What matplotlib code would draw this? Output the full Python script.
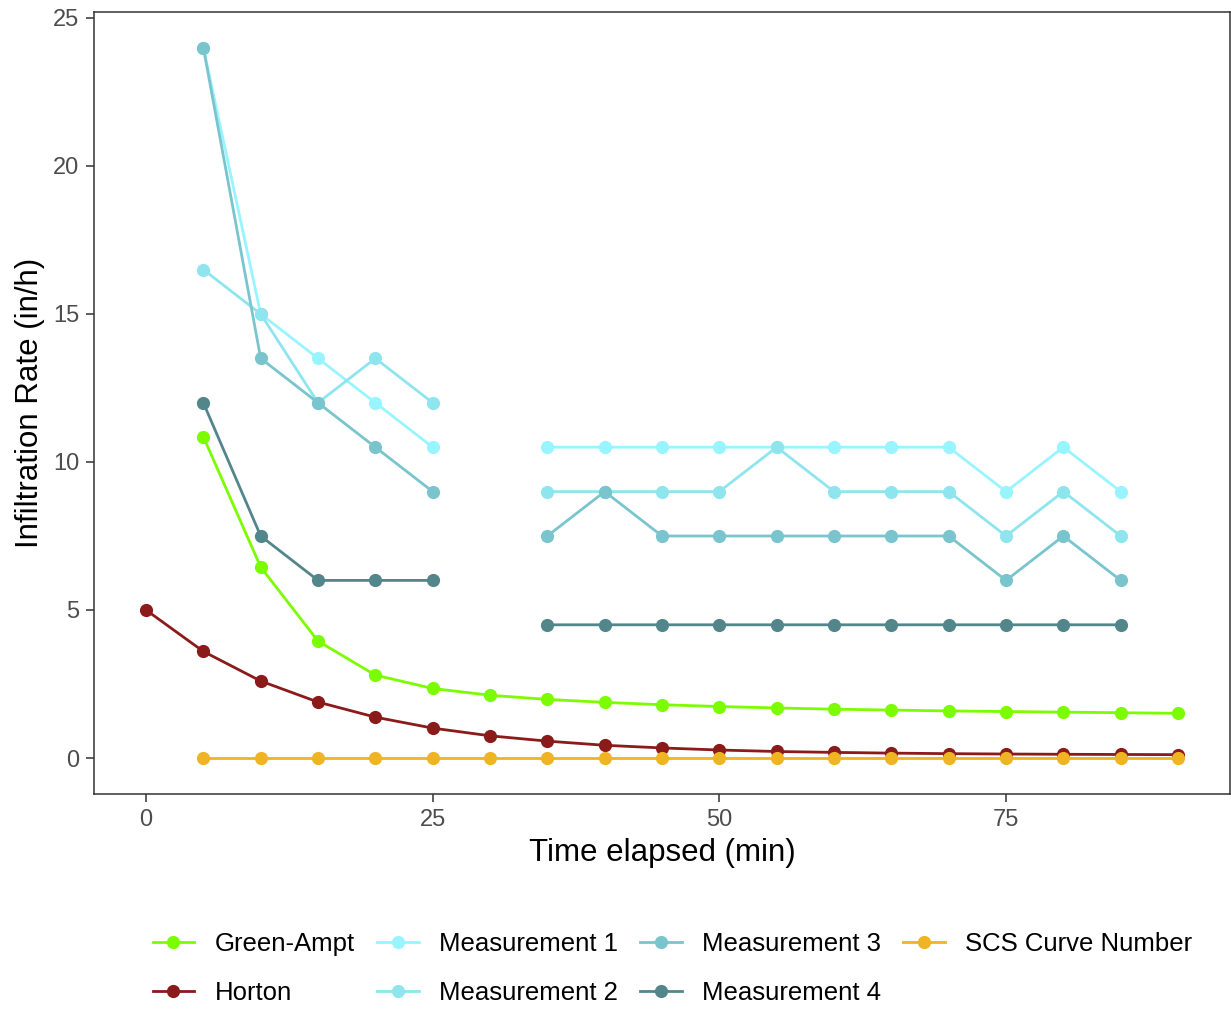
import numpy as np
import matplotlib
matplotlib.use("Agg")
import matplotlib.pyplot as plt
from matplotlib.lines import Line2D

plt.rcParams['font.family'] = ['Liberation Sans', 'DejaVu Sans']

# ----------------- Data -----------------
time_min = [0, 5, 10, 15, 20, 25, 30, 35, 40, 45, 50, 55, 60, 65, 70, 75, 80, 85, 90]
nan = np.nan

green_ampt = [nan, 10.85, 6.45, 3.95, 2.8, 2.35, 2.12, 1.98, 1.88, 1.8, 1.74, 1.69,
              1.65, 1.62, 1.59, 1.57, 1.55, 1.53, 1.51]
horton = [5.0, 3.6, 2.6, 1.89, 1.38, 1.01, 0.75, 0.57, 0.43, 0.34, 0.27, 0.22,
          0.19, 0.165, 0.147, 0.135, 0.126, 0.119, 0.114]
meas_1 = [nan, 24, 15, 13.5, 12, 10.5, nan, 10.5, 10.5, 10.5, 10.5, 10.5,
          10.5, 10.5, 10.5, 9, 10.5, 9, nan]
meas_2 = [nan, 16.5, 15, 12, 13.5, 12, nan, 9, 9, 9, 9, 10.5,
          9, 9, 9, 7.5, 9, 7.5, nan]
meas_3 = [nan, 24, 13.5, 12, 10.5, 9, nan, 7.5, 9, 7.5, 7.5, 7.5,
          7.5, 7.5, 7.5, 6, 7.5, 6, nan]
meas_4 = [nan, 12, 7.5, 6, 6, 6, nan, 4.5, 4.5, 4.5, 4.5, 4.5,
          4.5, 4.5, 4.5, 4.5, 4.5, 4.5, nan]
scs_cn = [nan, 0, 0, 0, 0, 0, 0, 0, 0, 0, 0, 0, 0, 0, 0, 0, 0, 0, 0]

series_names = ["Green-Ampt", "Horton", "Measurement 1", "Measurement 2",
                "Measurement 3", "Measurement 4", "SCS Curve Number"]
series_values = [green_ampt, horton, meas_1, meas_2, meas_3, meas_4, scs_cn]
series_colors = ["#7CFC00", "#8B1A1A", "#98F5FF", "#8EE5EE",
                 "#7AC5CD", "#53868B", "#EEB422"]

# ----------------- Plot -----------------
fig = plt.figure(figsize=(12.31, 10.11), dpi=100)
ax = fig.add_axes([0.0767, 0.2151, 0.9222, 0.773])

t = np.array(time_min, dtype=float)
# lines first, then all points on top
for vals, col in zip(series_values, series_colors):
    ax.plot(t, np.array(vals, dtype=float), color=col, lw=2.0, zorder=2,
            solid_capstyle="butt")
for vals, col in zip(series_values, series_colors):
    ax.plot(t, np.array(vals, dtype=float), ls="none", marker="o", ms=9.5,
            color=col, markeredgewidth=0, zorder=3)

ax.set_xlim(-4.5, 94.5)
ax.set_ylim(-1.2, 25.2)
ax.set_xticks([0, 25, 50, 75])
ax.set_yticks([0, 5, 10, 15, 20, 25])
ax.tick_params(axis="both", labelsize=17, labelcolor="#4D4D4D", color="#333333",
               length=6, width=1.1, pad=5)
for sp in ax.spines.values():
    sp.set_color("#333333")
    sp.set_linewidth(1.1)

ax.set_xlabel("Time elapsed (min)", fontsize=22.5, labelpad=5)
ax.set_ylabel("Infiltration Rate (in/h)", fontsize=22.5, labelpad=6)

handles = [Line2D([], [], color=c, lw=2.0, marker="o", ms=9.5, markeredgewidth=0)
           for c in series_colors]
fig.legend(handles, series_names, ncol=4, loc="center",
           bbox_to_anchor=(0.546, 0.042), frameon=False, fontsize=18.5,
           handlelength=1.63, handletextpad=0.78, columnspacing=0.86,
           labelspacing=0.95)

fig.savefig("out.png", dpi=100)
